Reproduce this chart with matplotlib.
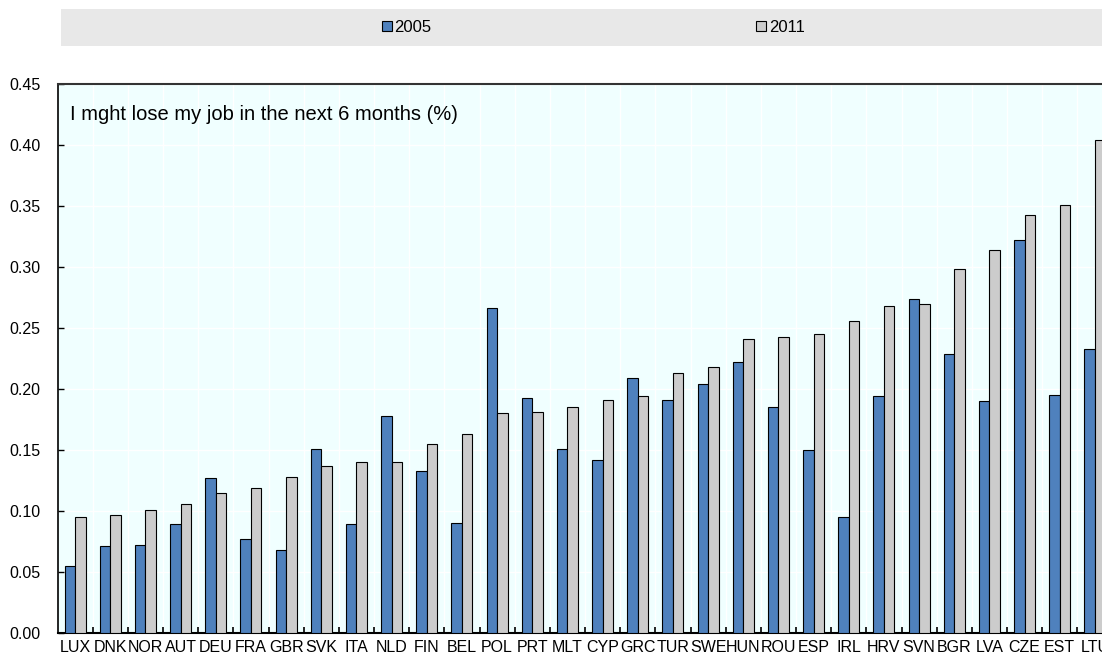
import matplotlib.pyplot as plt
import numpy as np
from matplotlib.patches import Patch, Rectangle
from matplotlib.ticker import FixedLocator

countries = ["LUX", "DNK", "NOR", "AUT", "DEU", "FRA", "GBR", "SVK", "ITA", "NLD",
             "FIN", "BEL", "POL", "PRT", "MLT", "CYP", "GRC", "TUR", "SWE", "HUN",
             "ROU", "ESP", "IRL", "HRV", "SVN", "BGR", "LVA", "CZE", "EST", "LTU"]
v2005 = [0.055, 0.071, 0.072, 0.089, 0.127, 0.077, 0.068, 0.151, 0.089, 0.178,
         0.133, 0.090, 0.266, 0.193, 0.151, 0.142, 0.209, 0.191, 0.204, 0.222,
         0.185, 0.150, 0.095, 0.194, 0.274, 0.229, 0.190, 0.322, 0.195, 0.233]
v2011 = [0.095, 0.097, 0.101, 0.106, 0.115, 0.119, 0.128, 0.137, 0.140, 0.140,
         0.155, 0.163, 0.180, 0.181, 0.185, 0.191, 0.194, 0.213, 0.218, 0.241,
         0.243, 0.245, 0.256, 0.268, 0.270, 0.298, 0.314, 0.343, 0.351, 0.404]
yticks = [0.00, 0.05, 0.10, 0.15, 0.20, 0.25, 0.30, 0.35, 0.40, 0.45]
title = "I mght lose my job in the next 6 months (%)"

blue = "#4F81BD"
grey = "#CCCCCC"

plt.rcParams['font.family'] = ['Liberation Sans', 'DejaVu Sans']

W, H = 1102, 656
fig = plt.figure(figsize=(W / 100, H / 100), dpi=100)

# grey legend band at the top
fig.patches.append(Rectangle((61 / W, 1 - 46 / H), 1.0, 37 / H, transform=fig.transFigure,
                             facecolor="#E8E8E8", edgecolor="none", zorder=0))

ax = fig.add_axes([57.5 / W, 23 / H, 1055 / W, 549 / H])
ax.set_facecolor("#F0FFFF")

x = np.arange(len(countries))
ax.bar(x - 0.15, v2005, width=0.3, color=blue, edgecolor="black", linewidth=0.8, zorder=3)
ax.bar(x + 0.15, v2011, width=0.3, color=grey, edgecolor="black", linewidth=0.8, zorder=3)

ax.set_xlim(-0.5, len(countries) - 0.5)
ax.set_ylim(0, 0.45)
ax.set_yticks(yticks)
ax.set_yticklabels([f"{v:.2f}" for v in yticks], fontsize=11.5)
ax.set_xticks(x)
ax.set_xticklabels(countries, fontsize=11.5)
ax.xaxis.set_minor_locator(FixedLocator(x[:-1] + 0.5))

ax.tick_params(axis="x", which="major", length=0, pad=5)
ax.tick_params(axis="x", which="minor", direction="in", length=4, width=1.2, color="black")
ax.tick_params(axis="y", direction="in", length=4, width=1, pad=12)

ax.grid(axis="y", color="white", linewidth=1, zorder=1)
ax.grid(axis="x", which="minor", color="white", linewidth=1, zorder=1)
ax.set_axisbelow(True)

for side in ["left", "bottom", "top", "right"]:
    ax.spines[side].set_color("black")
ax.spines["left"].set_linewidth(1.2)
ax.spines["bottom"].set_linewidth(1.5)
ax.spines["top"].set_linewidth(1.5)
ax.spines["top"].set_color("#333333")

ax.text(12.5 / 1055, (633 - 120) / 549, title, transform=ax.transAxes,
        fontsize=14.5, va="baseline", ha="left")

handles = [Patch(facecolor=blue, edgecolor="black", linewidth=0.8),
           Patch(facecolor=grey, edgecolor="black", linewidth=0.8)]
fig.legend(handles, ["2005", "2011"], ncol=2, loc="center",
           bbox_to_anchor=(593 / W, 1 - 27.5 / H), frameon=False, fontsize=12,
           handlelength=0.6, handleheight=0.6, handletextpad=0.15, columnspacing=19.5)

fig.savefig("out.png", dpi=100)
